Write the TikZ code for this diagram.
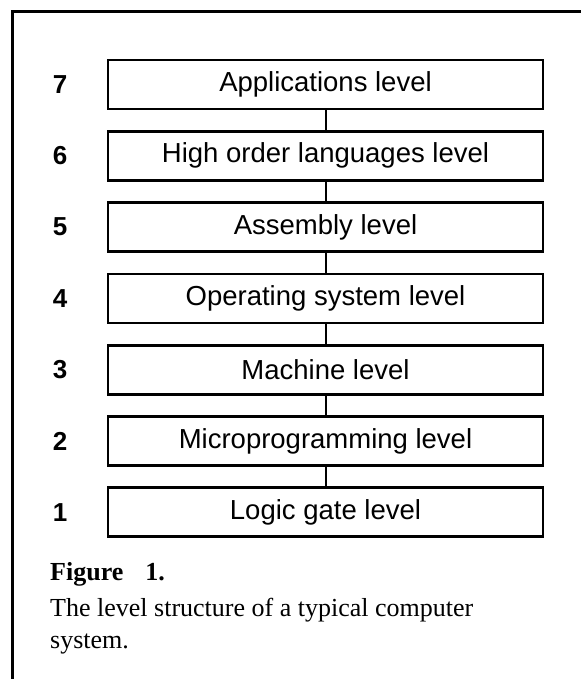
\documentclass[tikz,border=0pt]{standalone}
\usepackage{fontspec}
\setmainfont{Liberation Serif}
\newfontfamily\labelfont{Liberation Sans}
\begin{document}
\begin{tikzpicture}[x=1pt,y=-1pt,
  levelbox/.style={draw, line width=2.8pt, minimum width=435pt, minimum height=49pt, inner sep=0pt, font=\labelfont\fontsize{27.5}{31}\selectfont},
  levelnum/.style={font=\labelfont\bfseries\fontsize{26}{30}\selectfont},
  link/.style={line width=2pt},
  frame/.style={line width=3pt},
  captext/.style={anchor=base west, inner sep=0pt, font=\fontsize{26}{32}\selectfont}]
\useasboundingbox (0,0) rectangle (581,679);
\draw[frame] (12,679) -- (12,12) -- (581,12);

\node[levelbox] (b7) at (325.5,84.5) {Applications level};
\node[levelbox] (b6) at (325.5,155.8) {High order languages level};
\node[levelbox] (b5) at (325.5,227.1) {Assembly level};
\node[levelbox] (b4) at (325.5,298.4) {Operating system level};
\node[levelbox] (b3) at (325.5,369.7) {Machine level};
\node[levelbox] (b2) at (325.5,441.0) {Microprogramming level};
\node[levelbox] (b1) at (325.5,512.3) {Logic gate level};

\node[levelnum] (n7) at (60,84.5) {7};
\node[levelnum] (n6) at (60,155.8) {6};
\node[levelnum] (n5) at (60,227.1) {5};
\node[levelnum] (n4) at (60,298.4) {4};
\node[levelnum] (n3) at (60,369.7) {3};
\node[levelnum] (n2) at (60,441.0) {2};
\node[levelnum] (n1) at (60,512.3) {1};

\draw[link] (b7) -- (b6);
\draw[link] (b6) -- (b5);
\draw[link] (b5) -- (b4);
\draw[link] (b4) -- (b3);
\draw[link] (b3) -- (b2);
\draw[link] (b2) -- (b1);

\node[captext] (cap1) at (50,580) {\textbf{Figure}\hspace{22pt}\textbf{1.}};
\node[captext] (cap2) at (50,616) {The level structure of a typical computer};
\node[captext] (cap3) at (50,648) {system.};
\end{tikzpicture}
\end{document}
